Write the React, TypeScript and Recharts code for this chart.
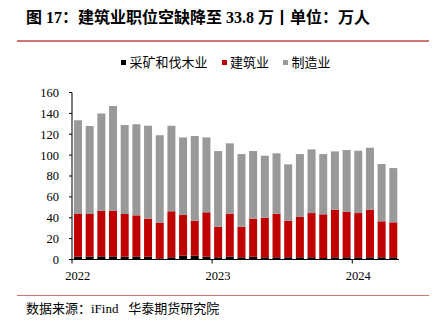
import React from 'react';
import { BarChart, Bar, XAxis, YAxis } from 'recharts';

const months = [
  '2022-01', '2022-02', '2022-03', '2022-04', '2022-05', '2022-06',
  '2022-07', '2022-08', '2022-09', '2022-10', '2022-11', '2022-12',
  '2023-01', '2023-02', '2023-03', '2023-04', '2023-05', '2023-06',
  '2023-07', '2023-08', '2023-09', '2023-10', '2023-11', '2023-12',
  '2024-01', '2024-02', '2024-03', '2024-04',
];

// 采矿和伐木业
const mining = [
  2.7, 2.9, 3.0, 3.0, 2.7, 2.9, 2.7, 1.1, 2.1, 3.7, 3.7, 2.7,
  2.1, 2.7, 2.1, 2.7, 2.1, 2.1, 2.1, 2.1, 2.1, 1.4, 2.1, 2.1,
  2.1, 2.1, 2.1, 2.1,
];

// 建筑业
const construction = [
  40.9, 40.7, 43.8, 43.8, 40.9, 39.4, 36.4, 34.2, 44.1, 38.9, 33.5, 42.5,
  29.3, 41.2, 29.3, 36.4, 37.9, 41.8, 35.1, 38.6, 42.4, 41.9, 45.6, 43.7,
  42.4, 45.6, 34.5, 33.5,
];

// 制造业
const manufacturing = [
  89.7, 84.3, 93.2, 100.2, 85.2, 87.2, 89.1, 83.7, 82.0, 74.4, 81.1, 71.8,
  72.5, 67.4, 69.6, 64.8, 59.4, 57.8, 54.0, 60.3, 61.0, 57.7, 55.9, 59.1,
  59.7, 59.4, 54.9, 52.0,
];

const yTicks = [0, 20, 40, 60, 80, 100, 120, 140, 160];

const yearLabels: Record<string, string> = {
  '2022-01': '2022',
  '2023-01': '2023',
  '2024-01': '2024',
};

const seriesNames = ['采矿和伐木业', '建筑业', '制造业'];
const seriesColors = ['#000000', '#c00000', '#999999'];

const data = months.map((m, i) => ({
  m,
  mining: mining[i],
  construction: construction[i],
  manufacturing: manufacturing[i],
}));

const W = 439;
const H = 332;
const MARGIN = { top: 92.5, right: 40, bottom: 42.5, left: 0 };
const Y_AXIS_W = 72;
const BAND = (W - MARGIN.left - MARGIN.right - Y_AXIS_W) / months.length;

const serif = "'Liberation Serif', 'Times New Roman', 'Noto Sans CJK SC', serif";
const cjk = "'Liberation Serif', 'Noto Sans CJK SC', sans-serif";

function XTick(props: any) {
  const { x, y, payload } = props;
  const label = yearLabels[payload.value];
  if (!label) return <g />;
  const bx = x - BAND / 2;
  return (
    <g>
      <line x1={bx} x2={bx} y1={y} y2={y + 4} stroke="#000" strokeWidth={1} />
      <text x={x} y={y + 20.5} textAnchor="middle" fill="#000" fontSize={12.5} fontFamily={serif}>
        {label}
      </text>
    </g>
  );
}

export default function App() {
  return (
    <div style={{ position: 'absolute', left: 0, top: 0, width: W, height: H, background: '#fff' }}>
      <div
        style={{
          position: 'absolute', left: 26, top: 8, lineHeight: '20px', fontSize: 16,
          fontWeight: 'bold', fontFamily: cjk, color: '#000', whiteSpace: 'nowrap',
        }}
      >
        图 17：建筑业职位空缺降至 33.8 万丨单位：万人
      </div>
      <div style={{ position: 'absolute', left: 17, top: 40, width: 412, height: 2, background: '#d27575' }} />

      <div
        style={{
          position: 'absolute', left: 121, top: 54, height: 16, display: 'flex', alignItems: 'center',
          fontSize: 13, fontFamily: "'Noto Sans CJK SC', sans-serif", color: '#000', whiteSpace: 'nowrap',
        }}
      >
        {seriesNames.map((n, i) => (
          <div key={n} style={{ display: 'flex', alignItems: 'center', marginRight: 14 }}>
            <span style={{ display: 'inline-block', width: 5, height: 5, background: seriesColors[i], marginRight: 3.5 }} />
            <span style={{ lineHeight: '16px' }}>{n}</span>
          </div>
        ))}
      </div>

      <div style={{ position: 'absolute', left: 0, top: 0 }}>
        <BarChart width={W} height={H} data={data} margin={MARGIN} barCategoryGap="17%">
          <YAxis
            width={Y_AXIS_W}
            domain={[0, 160]}
            ticks={yTicks}
            interval={0}
            tickSize={3}
            tickMargin={10}
            axisLine={{ stroke: '#000' }}
            tickLine={{ stroke: '#000' }}
            tick={{ fill: '#000', fontSize: 12.5, fontFamily: serif }}
          />
          <XAxis
            dataKey="m"
            interval={0}
            height={30}
            tickSize={0}
            tickMargin={0}
            tickLine={false}
            axisLine={{ stroke: '#000' }}
            tick={<XTick />}
          />
          <Bar dataKey="mining" stackId="a" fill={seriesColors[0]} isAnimationActive={false} />
          <Bar dataKey="construction" stackId="a" fill={seriesColors[1]} isAnimationActive={false} />
          <Bar dataKey="manufacturing" stackId="a" fill={seriesColors[2]} isAnimationActive={false} />
        </BarChart>
      </div>

      <div style={{ position: 'absolute', left: 17, top: 294.5, width: 412, height: 1.5, background: '#d27575' }} />
      <div
        style={{
          position: 'absolute', left: 26, top: 300, lineHeight: '18px', fontSize: 13,
          fontFamily: "'Liberation Serif', 'Noto Sans CJK SC', serif", color: '#000', whiteSpace: 'nowrap',
        }}
      >
        数据来源：iFind&nbsp;&nbsp;&nbsp;华泰期货研究院
      </div>
    </div>
  );
}
